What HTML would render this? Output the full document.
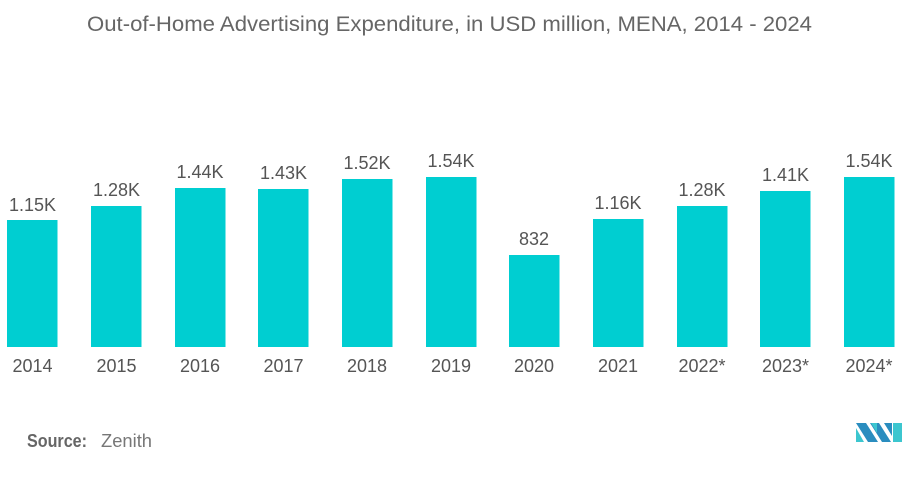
<!DOCTYPE html>
<html>
<head>
<meta charset="utf-8">
<style>
  html,body{margin:0;padding:0;background:#fff;}
  svg{display:block;}
  text{font-family:"Liberation Sans",sans-serif;}
</style>
</head>
<body>
<svg width="909" height="485" viewBox="0 0 909 485" xmlns="http://www.w3.org/2000/svg">
  <rect width="909" height="485" fill="#fff"/>
  <text x="87" y="31" font-size="21" fill="#666" textLength="725" lengthAdjust="spacingAndGlyphs">Out-of-Home Advertising Expenditure, in USD million, MENA, 2014 - 2024</text>

  <g fill="#00CED1">
    <rect x="7" y="220" width="50.5" height="127"/>
    <rect x="91" y="206" width="50.5" height="141"/>
    <rect x="175" y="188" width="50.5" height="159"/>
    <rect x="258" y="189" width="50.5" height="158"/>
    <rect x="342" y="179" width="50.5" height="168"/>
    <rect x="426" y="177" width="50.5" height="170"/>
    <rect x="509" y="255" width="50.5" height="92"/>
    <rect x="593" y="219" width="50.5" height="128"/>
    <rect x="677" y="206" width="50.5" height="141"/>
    <rect x="760" y="191" width="50.5" height="156"/>
    <rect x="844" y="177" width="50.5" height="170"/>
  </g>

  <g font-size="18" fill="#555" text-anchor="middle">
    <text x="32.5" y="211">1.15K</text>
    <text x="116.5" y="196">1.28K</text>
    <text x="200" y="178">1.44K</text>
    <text x="283.5" y="179">1.43K</text>
    <text x="367" y="169">1.52K</text>
    <text x="451" y="167">1.54K</text>
    <text x="534" y="245">832</text>
    <text x="618" y="209">1.16K</text>
    <text x="702" y="196">1.28K</text>
    <text x="785.5" y="181">1.41K</text>
    <text x="869" y="167">1.54K</text>
  </g>

  <g font-size="18" fill="#555" text-anchor="middle">
    <text x="32.5" y="372">2014</text>
    <text x="116.5" y="372">2015</text>
    <text x="200" y="372">2016</text>
    <text x="283.5" y="372">2017</text>
    <text x="367" y="372">2018</text>
    <text x="451" y="372">2019</text>
    <text x="534" y="372">2020</text>
    <text x="618" y="372">2021</text>
    <text x="702" y="372">2022*</text>
    <text x="785.5" y="372">2023*</text>
    <text x="869" y="372">2024*</text>
  </g>

  <text x="27" y="447" font-size="18" font-weight="bold" fill="#666" textLength="60" lengthAdjust="spacingAndGlyphs">Source:</text>
  <text x="101" y="447" font-size="18" fill="#777" textLength="51" lengthAdjust="spacingAndGlyphs">Zenith</text>

  <g>
    <polygon points="856,423 866,423 878,442 868,442" fill="#2a8dbf"/>
    <polygon points="856,428 856,442 864,442" fill="#3cc6cf"/>
    <polygon points="870,423 879,423 891,442 882,442" fill="#2a8dbf"/>
    <polygon points="871,423 877,423 877,433" fill="#3cc6cf"/>
    <polygon points="893,423 902,423 902,442 893,442" fill="#3cc6cf"/>
    <polygon points="884,423 892,423 892,436" fill="#2a8dbf"/>
  </g>
</svg>
</body>
</html>
